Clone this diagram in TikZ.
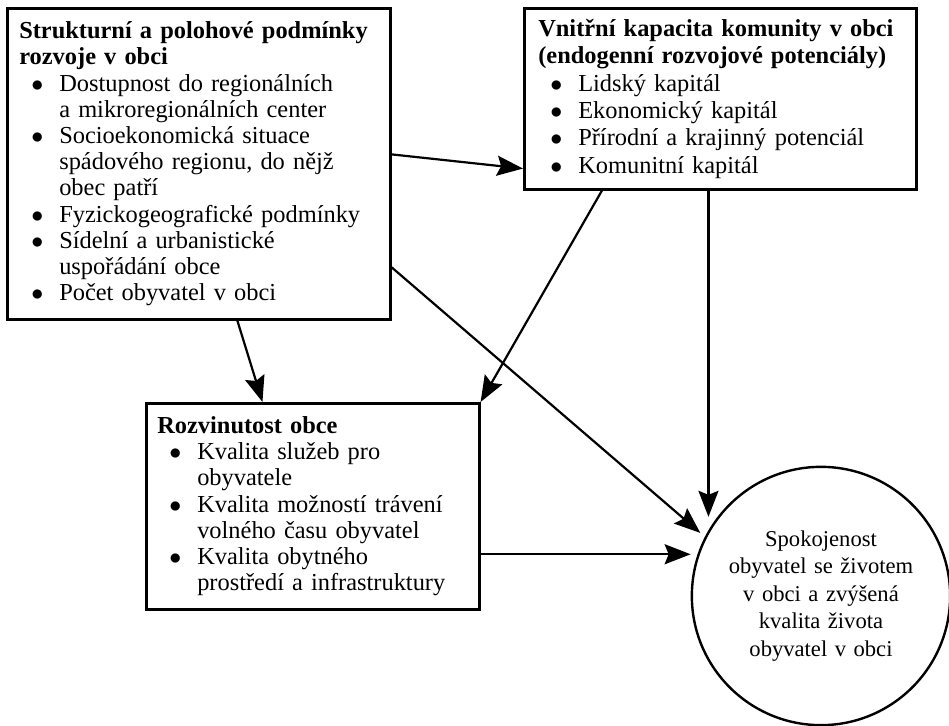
\documentclass[tikz,border=0pt]{standalone}
\usepackage{fontspec}
\setmainfont{Liberation Serif}
\usetikzlibrary{positioning, calc, arrows.meta}
\tikzset{
>={Stealth[length=13pt, width=10pt, inset=2pt]}, % large filled arrow heads
box/.style={draw, line width=1.3pt, anchor=north west, align=left, inner sep=5pt,
  font=\fontsize{12.2}{13.1}\selectfont}, % the three boxes with lists
goal/.style={draw, circle, line width=1.2pt, align=center, inner sep=0pt,
  minimum size=128pt, text width=112pt, font=\fontsize{11.3}{13.75}\selectfont}, % the outcome
link/.style={->, line width=1.1pt}, % every connector
}
\newcommand{\bod}{\makebox[20pt][l]{\hspace{6pt}$\bullet$}}
\newcommand{\dal}{\hspace*{20pt}}

\begin{document}
\begin{tikzpicture}[x=0.5pt, y=-0.5pt]
    \useasboundingbox (0,0) rectangle (949,726);

    \node[box, minimum width=191.5pt, minimum height=155.5pt, text width=179.5pt, inner xsep=6pt] (podm) at (6,7)
      {\textbf{Strukturní a polohové podmínky}\\
       \textbf{rozvoje v obci}\\
       \bod Dostupnost do regionálních\\
       \dal a mikroregionálních center\\
       \bod Socioekonomická situace\\
       \dal spádového regionu, do nějž\\
       \dal obec patří\\
       \bod Fyzickogeografické podmínky\\
       \bod Sídelní a urbanistické\\
       \dal uspořádání obce\\
       \bod Počet obyvatel v obci};

    \node[box, minimum width=196pt, minimum height=90.5pt, text width=182pt, inner xsep=7pt,
      font=\fontsize{12.2}{13.7}\selectfont] (kap) at (523,7)
      {\textbf{Vnitřní kapacita komunity v obci}\\
       \textbf{(endogenní rozvojové potenciály)}\\
       \bod Lidský kapitál\\
       \bod Ekonomický kapitál\\
       \bod Přírodní a krajinný potenciál\\
       \bod Komunitní kapitál};

    \node[box, minimum width=166.5pt, minimum height=103pt, text width=155.5pt, inner xsep=5.5pt] (rozv) at (145,402)
      {\textbf{Rozvinutost obce}\\
       \bod Kvalita služeb pro\\
       \dal obyvatele\\
       \bod Kvalita možností trávení\\
       \dal volného času obyvatel\\
       \bod Kvalita obytného\\
       \dal prostředí a infrastruktury};

    \node[goal] (spok) at (821,596)
      {Spokojenost\\ obyvatel se životem\\ v obci a zvýšená\\ kvalita života\\ obyvatel v obci};

    % connectors
    \coordinate (k1) at ($(kap.south west)!0.47!(kap.south east)$);
    \coordinate (r1) at ($(rozv.north east)!0.73!(rozv.south east)$);
    \draw[link] ($(podm.north east)!0.47!(podm.south east)$) -- ($(kap.north west)!0.88!(kap.south west)$);
    \draw[link] ($(podm.south west)!0.6!(podm.south east)$) -- ($(rozv.north west)!0.35!(rozv.north east)$);
    \draw[link, shorten >=3pt] ($(podm.north east)!0.83!(podm.south east)$) -- (spok.153);
    \draw[link] ($(kap.south west)!0.2!(kap.south east)$) -- (rozv.north east);
    \draw[link, shorten >=7pt] (k1) -- (k1 |- spok.150);
    \draw[link] (r1) -- (r1 -| spok.west);
\end{tikzpicture}
\end{document}
